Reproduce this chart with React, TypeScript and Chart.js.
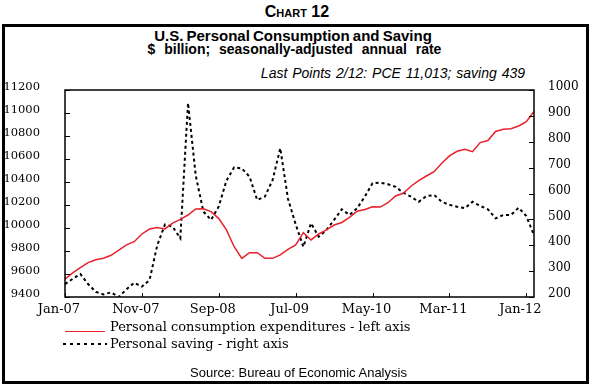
import React, { useEffect, useRef } from 'react';
import { Chart, registerables } from 'chart.js';

Chart.register(...registerables);

const CATEGORIES = [
  'Jan-07', 'Feb-07', 'Mar-07', 'Apr-07', 'May-07', 'Jun-07', 'Jul-07', 'Aug-07', 'Sep-07', 'Oct-07', 'Nov-07', 'Dec-07',
  'Jan-08', 'Feb-08', 'Mar-08', 'Apr-08', 'May-08', 'Jun-08', 'Jul-08', 'Aug-08', 'Sep-08', 'Oct-08', 'Nov-08', 'Dec-08',
  'Jan-09', 'Feb-09', 'Mar-09', 'Apr-09', 'May-09', 'Jun-09', 'Jul-09', 'Aug-09', 'Sep-09', 'Oct-09', 'Nov-09', 'Dec-09',
  'Jan-10', 'Feb-10', 'Mar-10', 'Apr-10', 'May-10', 'Jun-10', 'Jul-10', 'Aug-10', 'Sep-10', 'Oct-10', 'Nov-10', 'Dec-10',
  'Jan-11', 'Feb-11', 'Mar-11', 'Apr-11', 'May-11', 'Jun-11', 'Jul-11', 'Aug-11', 'Sep-11', 'Oct-11', 'Nov-11', 'Dec-11',
  'Jan-12', 'Feb-12',
];

const TICK_LABELS = ['Jan-07', 'Nov-07', 'Sep-08', 'Jul-09', 'May-10', 'Mar-11', 'Jan-12'];

// Personal consumption expenditures, $ billion (left axis)
const PCE = [
  9556, 9610, 9655, 9699, 9724, 9737, 9763, 9807, 9853, 9881, 9948, 9991,
  10004, 9992, 10043, 10075, 10113, 10166, 10168, 10142, 10082, 9983, 9837, 9736,
  9785, 9785, 9736, 9736, 9766, 9815, 9853, 9960, 9896, 9948, 9983, 10026,
  10048, 10092, 10146, 10161, 10185, 10182, 10220, 10278, 10302, 10363, 10412, 10452,
  10490, 10563, 10627, 10667, 10685, 10664, 10743, 10760, 10839, 10859, 10864, 10887,
  10924, 11013,
];

// Personal saving, $ billion (right axis)
const SAVING = [
  250, 270, 289, 250, 220, 210, 218, 200, 230, 255, 240, 266,
  400, 480, 472, 427, 950, 670, 530, 498, 550, 650, 701, 697,
  665, 575, 588, 652, 775, 580, 481, 394, 485, 433, 459, 498,
  539, 517, 543, 588, 640, 642, 636, 626, 603, 588, 568, 590,
  594, 568, 556, 549, 543, 568, 552, 539, 504, 517, 517, 545,
  513, 439,
];

const LEFT_MIN = 9400;
const LEFT_MAX = 11200;
const LEFT_STEP = 200;
const RIGHT_MIN = 200;
const RIGHT_MAX = 1000;
const RIGHT_STEP = 100;

const framePlugin = {
  id: 'frameTicks',
  afterDatasetsDraw(chart: any) {
    const { ctx, chartArea: a, scales } = chart;
    ctx.save();
    ctx.strokeStyle = '#000';
    ctx.lineWidth = 1.5;
    ctx.strokeRect(a.left, a.top, a.right - a.left, a.bottom - a.top);
    ctx.lineWidth = 1;
    ctx.beginPath();
    scales.y.ticks.forEach((t: any) => {
      const p = Math.round(scales.y.getPixelForValue(t.value)) + 0.5;
      ctx.moveTo(a.left, p);
      ctx.lineTo(a.left + 5, p);
    });
    scales.y1.ticks.forEach((t: any) => {
      const p = Math.round(scales.y1.getPixelForValue(t.value)) + 0.5;
      ctx.moveTo(a.right - 5, p);
      ctx.lineTo(a.right, p);
    });
    scales.x.ticks.forEach((t: any) => {
      if (TICK_LABELS.includes(CATEGORIES[t.value])) {
        const p = Math.round(scales.x.getPixelForValue(t.value)) + 0.5;
        ctx.moveTo(p, a.bottom);
        ctx.lineTo(p, a.bottom - 4);
      }
    });
    ctx.stroke();
    ctx.restore();
  },
};

export default function App() {
  const ref = useRef<HTMLCanvasElement>(null);

  useEffect(() => {
    if (!ref.current) return;
    const chart = new Chart(ref.current, {
      type: 'line',
      data: {
        labels: CATEGORIES,
        datasets: [
          {
            label: 'Personal consumption expenditures - left axis',
            data: PCE,
            borderColor: '#e8212b',
            borderWidth: 1.5,
            pointRadius: 0,
            tension: 0,
            yAxisID: 'y',
          },
          {
            label: 'Personal saving - right axis',
            data: SAVING,
            borderColor: '#000',
            borderWidth: 2,
            borderDash: [3, 3],
            pointRadius: 0,
            tension: 0,
            yAxisID: 'y1',
          },
        ],
      },
      options: {
        responsive: false,
        animation: false,
        devicePixelRatio: 1,
        layout: { padding: { top: 90, left: 0, right: 0, bottom: 0 } },
        plugins: {
          legend: { display: false },
          tooltip: { enabled: false },
          title: { display: false },
        },
        scales: {
          x: {
            type: 'category',
            offset: false,
            grid: { display: false },
            border: { display: false },
            afterFit: (s: any) => { s.height = 90; },
            ticks: {
              autoSkip: false,
              maxRotation: 0,
              minRotation: 0,
              padding: -3,
              labelOffset: -6,
              color: '#000',
              font: { family: 'DejaVu Serif', size: 13 },
              callback: (_v: any, idx: number) =>
                TICK_LABELS.includes(CATEGORIES[idx]) ? CATEGORIES[idx] : '',
            },
          },
          y: {
            position: 'left',
            min: LEFT_MIN,
            max: LEFT_MAX,
            grid: { display: false },
            border: { display: false },
            afterFit: (s: any) => { s.width = 65; },
            ticks: {
              stepSize: LEFT_STEP,
              padding: 17,
              labelOffset: -3,
              color: '#000',
              font: { family: 'DejaVu Serif', size: 11.5 },
              callback: (v: any) => String(v),
            },
          },
          y1: {
            position: 'right',
            min: RIGHT_MIN,
            max: RIGHT_MAX,
            grid: { display: false },
            border: { display: false },
            afterFit: (s: any) => { s.width = 60; },
            ticks: {
              stepSize: RIGHT_STEP,
              padding: 6,
              labelOffset: -3,
              color: '#000',
              font: { family: 'DejaVu Serif', size: 12 },
              callback: (v: any) => String(v),
            },
          },
        },
      },
      plugins: [framePlugin],
    });
    return () => chart.destroy();
  }, []);

  const sans = '"Liberation Sans", Arial, sans-serif';
  const serif = '"DejaVu Serif", serif';

  return (
    <div style={{ position: 'absolute', left: 0, top: 0, width: 594, height: 387, background: '#fff', overflow: 'hidden' }}>
      <div style={{ position: 'absolute', left: 0, width: 594, top: 2, textAlign: 'center', fontFamily: sans, fontWeight: 'bold', fontSize: 16, lineHeight: '20px', fontVariant: 'small-caps' }}>
        Chart 12
      </div>
      <div style={{ position: 'absolute', left: 2, top: 24, width: 587, height: 360, border: '3px solid #000', boxSizing: 'border-box' }} />
      <div style={{ position: 'absolute', left: 0, width: 586, top: 27, textAlign: 'center', fontFamily: sans, fontWeight: 'bold', fontSize: 15, lineHeight: '17px', wordSpacing: -1 }}>
        U.S. Personal Consumption and Saving
      </div>
      <div style={{ position: 'absolute', left: 0, width: 589, top: 41, textAlign: 'center', fontFamily: sans, fontWeight: 'bold', fontSize: 14, lineHeight: '16px', wordSpacing: 5 }}>
        $ billion; seasonally-adjusted annual rate
      </div>
      <div style={{ position: 'absolute', right: 594 - 525, top: 65, textAlign: 'right', fontFamily: sans, fontStyle: 'italic', fontSize: 14, lineHeight: '17px', wordSpacing: 1, whiteSpace: 'nowrap' }}>
        Last Points 2/12: PCE 11,013; saving 439
      </div>
      <canvas ref={ref} width={594} height={387} style={{ position: 'absolute', left: 0, top: 0, width: 594, height: 387, display: 'block' }} />
      <div style={{ position: 'absolute', left: 65, top: 331, width: 40, height: 1, background: '#e8212b' }} />
      <div style={{ position: 'absolute', left: 110, top: 319, fontFamily: serif, fontSize: 13, lineHeight: '16px', whiteSpace: 'nowrap' }}>
        Personal consumption expenditures - left axis
      </div>
      <div style={{ position: 'absolute', left: 63, top: 343, width: 44, height: 2, background: 'repeating-linear-gradient(to right, #000 0 3px, transparent 3px 7px)' }} />
      <div style={{ position: 'absolute', left: 110, top: 336, fontFamily: serif, fontSize: 13, lineHeight: '16px', whiteSpace: 'nowrap' }}>
        Personal saving - right axis
      </div>
      <div style={{ position: 'absolute', left: 0, width: 597, top: 365, textAlign: 'center', fontFamily: sans, fontSize: 13, lineHeight: '16px' }}>
        Source: Bureau of Economic Analysis
      </div>
    </div>
  );
}
